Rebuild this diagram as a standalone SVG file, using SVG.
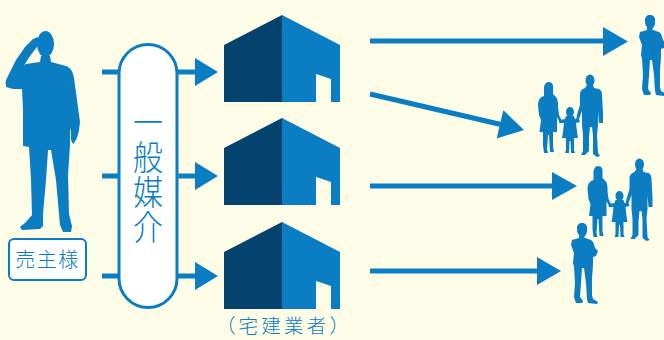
<svg xmlns="http://www.w3.org/2000/svg" xmlns:xlink="http://www.w3.org/1999/xlink" width="664" height="340" viewBox="0 0 664 340">
  <style>
    .fig { fill: #0b7dc2; }
    .line { stroke: #0b7dc2; stroke-width: 5; fill: none; }
    .head { fill: #0b7dc2; }
    .dark { fill: #04436d; }
    .blue { fill: #0b7dc2; }
    .jp { font-family: "Noto Sans CJK JP", "Noto Sans", sans-serif; font-weight: 300; fill: #0b7dc2; text-anchor: middle; }
  </style>
  <defs>
    <!-- house icon, peak at y=0 -->
    <g id="house-shape">
      <polygon class="dark" points="224,30 282,0 282,87 224,87"/>
      <polygon class="blue" points="282,0 340,30 340,87 331,87 331,64 316,59 316,87 282,87"/>
    </g>
    <!-- standing man with folded arms, 27x81 -->
    <path id="man-folded" class="fig" d="M11 0 C15 0 16.5 3 16 6 L16 9 C15 12 14 13 13 14 L14 15 L20 17 C23 19 23 22 24 25 L27 28 L25 33 L22 34 L22 42 L21 55 L21 72 L22 76 L27 79 L26 81 L17 80 L16 76 L15 60 L13 45 L11 45 L10 60 L9 74 L12 78 L11 80 L5 80 L3 74 L4 60 L3 44 L2 40 L3 30 L0 22 L1 17 L8 15 L8 12 C6 10 6 8 6 5 C6 2 8 0 11 0 Z"/>
    <!-- family of three -->
    <g id="family">
      <!-- woman -->
      <path class="fig" d="M11.5 7 C15 7 16.5 10 16 13 L16 19 L19 22 C21 24 21 28 21 32 L22 40 L25 46 L23 48 L20 42 L20 57 L16 57 L16 72 L17 77 L13 77 L12 60 L11 60 L10 74 L11 78 L7 78 L6 70 L6 57 L2.5 57 L4 45 L2 40 L1 30 C1 25 3 22 7 21 L7 13 C7 10 9 7 11.5 7 Z"/>
      <!-- child -->
      <ellipse class="head" cx="33" cy="37" rx="4" ry="5"/>
      <path class="fig" d="M29 41 L37 41 L38 44 L42 44 L43 47 L39 48 L40 57 L41 63 L37 63 L37 75 L38 78 L34 78 L33.5 66 L32.5 66 L32 78 L28 78 L29 75 L29 63 L25 63 L26 57 L27 48 L22 48 L23 45 L28 44 Z"/>
      <!-- man -->
      <ellipse class="head" cx="53" cy="5.5" rx="4.5" ry="6"/>
      <path class="fig" d="M50 10 L56 10 L57 13 L62 14 C64 15 65 17 65 20 L66 38 L66 48 L62 48 L61 36 L61 50 L60 60 L61 78 L63 81 L60 82 L56 79 L56 60 L55 52 L53 52 L52 62 L52 76 L48 80 L44 80 L46 76 L46 60 L45 50 L45 36 L42 44 L39 45 L40 40 L43 30 L43 19 C43 16 45 14 48 13 Z"/>
    </g>
  </defs>

  <rect width="664" height="340" fill="#fdfce6"/>

  <!-- seller -->
  <g id="seller">
    <ellipse class="head" cx="45.5" cy="44" rx="8.5" ry="13"/>
    <path class="fig" d="M41 56 L50 56 L51 62 L66 66 C71 68 73 72 74 78 L77 100 L80 122 L79 130 C78 136 76 141 73 144 L71 140 L71 132 L70 128 L70 145 L68 175 L69 214 L72 226 L71 232 L63 232 L60 225 L59 214 L56 180 L51 150 L48 150 L46 180 L43 214 L43 226 L40 229 L22 230 L20 227 L26 222 L32 215 L31 180 L29 147 L23 146 L23 110 L22 89 L13 89 L6 87 L6 80 L12 70 L26 64 L40 62 Z"/>
    <path class="fig" d="M5 84 L8 76 L16 60 L25 47 L33 39 L38 37 L40 41 L37 47 L30 56 L25 64 L14 74 Z"/>
    <rect x="9" y="239" width="77" height="41" rx="5" fill="#ffffff" stroke="#0b7dc2" stroke-width="2"/>
    <text class="jp" x="47.5" y="267" font-size="20" letter-spacing="1.5">売主様</text>
  </g>

  <!-- connectors -->
  <g id="connectors">
    <line class="line" x1="102" y1="72" x2="119" y2="72"/>
    <line class="line" x1="102" y1="176" x2="119" y2="176"/>
    <line class="line" x1="102" y1="276" x2="119" y2="276"/>

    <line class="line" x1="177" y1="72" x2="197" y2="72"/>
    <polygon class="blue" points="195,58 218,72 195,86"/>
    <line class="line" x1="177" y1="176" x2="197" y2="176"/>
    <polygon class="blue" points="195,162 218,176 195,190"/>
    <line class="line" x1="177" y1="276" x2="197" y2="276"/>
    <polygon class="blue" points="195,262 218,276 195,290"/>

    <line class="line" x1="370" y1="41" x2="605" y2="41"/>
    <polygon class="blue" points="603,27 628,41.5 603,56"/>
    <line class="line" x1="370" y1="94" x2="502" y2="124.8"/>
    <polygon class="blue" points="503.3,110.2 524,130 496.7,138.4"/>
    <line class="line" x1="370" y1="186" x2="554" y2="186"/>
    <polygon class="blue" points="552,172 577,186 552,200"/>
    <line class="line" x1="370" y1="271" x2="539" y2="271"/>
    <polygon class="blue" points="537,257 561,271 537,285"/>
  </g>

  <!-- general brokerage -->
  <g id="brokerage">
    <rect x="119" y="44.5" width="58" height="263" rx="29" fill="#ffffff" stroke="#0b7dc2" stroke-width="3"/>
    <text class="jp" font-size="30" writing-mode="vertical-rl" letter-spacing="0.5" transform="translate(148,175) scale(1,1.15)">一般媒介</text>
  </g>

  <!-- agents -->
  <g id="agent-1"><use xlink:href="#house-shape" transform="translate(0,15)"/></g>
  <g id="agent-2"><use xlink:href="#house-shape" transform="translate(0,118)"/></g>
  <g id="agent-3"><use xlink:href="#house-shape" transform="translate(0,222)"/></g>
  <text class="jp" x="284" y="333" font-size="19.5" letter-spacing="3.2">（宅建業者）</text>

  <!-- buyers -->
  <g id="buyer-1"><use xlink:href="#man-folded" transform="translate(639,15)"/></g>
  <g id="buyer-2"><use xlink:href="#family" transform="translate(537,75)"/></g>
  <g id="buyer-3"><use xlink:href="#family" transform="translate(586.5,159)"/></g>
  <g id="buyer-4"><use xlink:href="#man-folded" transform="translate(571,223)"/></g>
</svg>
